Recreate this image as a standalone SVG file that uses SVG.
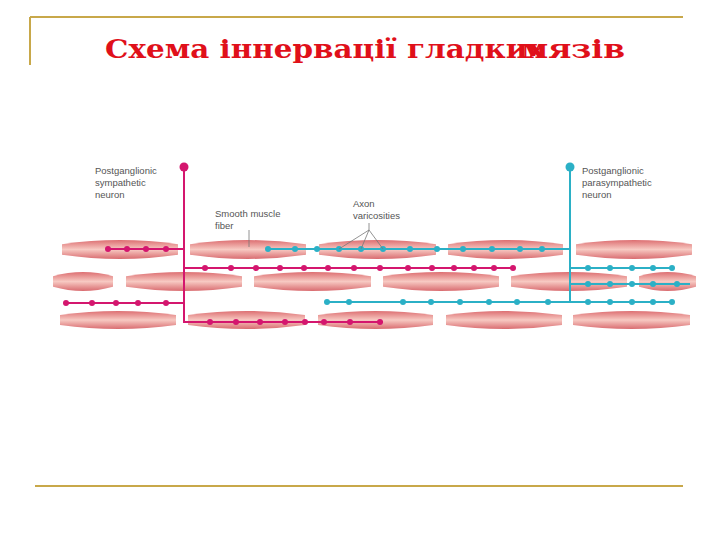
<svg xmlns="http://www.w3.org/2000/svg" width="720" height="540" viewBox="0 0 720 540">
<defs>
<linearGradient id="fg" x1="0" y1="0" x2="0" y2="1">
<stop offset="0" stop-color="#dd6f72"/><stop offset="0.5" stop-color="#f7c9c2"/><stop offset="1" stop-color="#d96c70"/>
</linearGradient>
<symbol id="fib" viewBox="0 0 100 20" preserveAspectRatio="none">
<path d="M0,5 Q50,-3 100,5 L100,15 Q50,23 0,15 Z" fill="url(#fg)"/>
</symbol>
</defs>
<style>
.m{stroke:#d4166e;stroke-width:2;fill:none}
.md{fill:#d4166e}
.c{stroke:#2bb0c6;stroke-width:2;fill:none}
.cd{fill:#2bb0c6}
.lbl{font-family:"Liberation Sans",Arial,sans-serif;font-size:9.5px;fill:#555}
.gold{stroke:#c8a84a;stroke-width:2;fill:none}
</style>
<rect width="720" height="540" fill="#fff"/>
<g id="frame">
<line class="gold" x1="30" y1="17" x2="683" y2="17"/>
<line class="gold" x1="30" y1="17" x2="30" y2="65"/>
<line class="gold" x1="35" y1="486" x2="683" y2="486"/>
</g>
<g id="title" font-family="'DejaVu Serif','Liberation Serif',serif" font-weight="bold" font-size="26" fill="#e0101a">
<text x="105" y="58" textLength="440" lengthAdjust="spacingAndGlyphs">Схема іннервації гладких</text>
<text x="521" y="58" textLength="104" lengthAdjust="spacingAndGlyphs">мязів</text>
</g>
<g id="fibers">
<use href="#fib" x="62" y="239" width="116" height="21"/>
<use href="#fib" x="190" y="239" width="116" height="21"/>
<use href="#fib" x="319" y="239" width="117" height="21"/>
<use href="#fib" x="448" y="239" width="115" height="21"/>
<use href="#fib" x="576" y="239" width="116" height="21"/>
<use href="#fib" x="53" y="271" width="60" height="21"/>
<use href="#fib" x="126" y="271" width="116" height="21"/>
<use href="#fib" x="254" y="271" width="117" height="21"/>
<use href="#fib" x="383" y="271" width="116" height="21"/>
<use href="#fib" x="511" y="271" width="116" height="21"/>
<use href="#fib" x="639" y="271" width="57" height="21"/>
<use href="#fib" x="60" y="310" width="116" height="20"/>
<use href="#fib" x="188" y="310" width="117" height="20"/>
<use href="#fib" x="318" y="310" width="115" height="20"/>
<use href="#fib" x="446" y="310" width="116" height="20"/>
<use href="#fib" x="573" y="310" width="117" height="20"/>
</g>
<g id="connectors">
<path class="m" d="M184,167V322H383M108,249H184M184,268H513M64,303H184"/>
<g class="md">
<circle cx="184" cy="167" r="4.5"/>
<circle cx="108" cy="249" r="3"/><circle cx="127" cy="249" r="3"/><circle cx="146" cy="249" r="3"/><circle cx="166" cy="249" r="3"/>
<circle cx="205" cy="268" r="3"/><circle cx="231" cy="268" r="3"/><circle cx="256" cy="268" r="3"/><circle cx="280" cy="268" r="3"/><circle cx="304" cy="268" r="3"/><circle cx="328" cy="268" r="3"/><circle cx="354" cy="268" r="3"/><circle cx="380" cy="268" r="3"/><circle cx="408" cy="268" r="3"/><circle cx="432" cy="268" r="3"/><circle cx="454" cy="268" r="3"/><circle cx="474" cy="268" r="3"/><circle cx="494" cy="268" r="3"/><circle cx="513" cy="268" r="3"/>
<circle cx="66" cy="303" r="3"/><circle cx="92" cy="303" r="3"/><circle cx="116" cy="303" r="3"/><circle cx="138" cy="303" r="3"/><circle cx="166" cy="303" r="3"/>
<circle cx="210" cy="322" r="3"/><circle cx="236" cy="322" r="3"/><circle cx="260" cy="322" r="3"/><circle cx="285" cy="322" r="3"/><circle cx="305" cy="322" r="3"/><circle cx="324" cy="322" r="3"/><circle cx="350" cy="322" r="3"/><circle cx="380" cy="322" r="3"/>
</g>
<path class="c" d="M570,167V302H325M268,249H570M570,268H672M570,284H690M570,302H672"/>
<g class="cd">
<circle cx="570" cy="167" r="4.5"/>
<circle cx="268" cy="249" r="3"/><circle cx="295" cy="249" r="3"/><circle cx="317" cy="249" r="3"/><circle cx="339" cy="249" r="3"/><circle cx="361" cy="249" r="3"/><circle cx="383" cy="249" r="3"/><circle cx="410" cy="249" r="3"/><circle cx="437" cy="249" r="3"/><circle cx="463" cy="249" r="3"/><circle cx="492" cy="249" r="3"/><circle cx="520" cy="249" r="3"/><circle cx="542" cy="249" r="3"/>
<circle cx="588" cy="268" r="3"/><circle cx="610" cy="268" r="3"/><circle cx="632" cy="268" r="3"/><circle cx="653" cy="268" r="3"/><circle cx="672" cy="268" r="3"/>
<circle cx="588" cy="284" r="3"/><circle cx="610" cy="284" r="3"/><circle cx="632" cy="284" r="3"/><circle cx="653" cy="284" r="3"/><circle cx="677" cy="284" r="3"/>
<circle cx="327" cy="302" r="3"/><circle cx="349" cy="302" r="3"/><circle cx="403" cy="302" r="3"/><circle cx="431" cy="302" r="3"/><circle cx="460" cy="302" r="3"/><circle cx="489" cy="302" r="3"/><circle cx="517" cy="302" r="3"/><circle cx="548" cy="302" r="3"/><circle cx="588" cy="302" r="3"/><circle cx="610" cy="302" r="3"/><circle cx="632" cy="302" r="3"/><circle cx="653" cy="302" r="3"/><circle cx="672" cy="302" r="3"/>
</g>
<path d="M369,223V230L339,249M369,230L361,249M369,230L383,249M249,230V247" stroke="#777" stroke-width="0.8" fill="none"/>
</g>
<g id="labels" class="lbl">
<text class="lbl" x="95" y="174">Postganglionic</text>
<text class="lbl" x="95" y="186">sympathetic</text>
<text class="lbl" x="95" y="198">neuron</text>
<text class="lbl" x="215" y="217">Smooth muscle</text>
<text class="lbl" x="215" y="229">fiber</text>
<text class="lbl" x="353" y="207">Axon</text>
<text class="lbl" x="353" y="219">varicosities</text>
<text class="lbl" x="582" y="174">Postganglionic</text>
<text class="lbl" x="582" y="186">parasympathetic</text>
<text class="lbl" x="582" y="198">neuron</text>
</g>
</svg>
